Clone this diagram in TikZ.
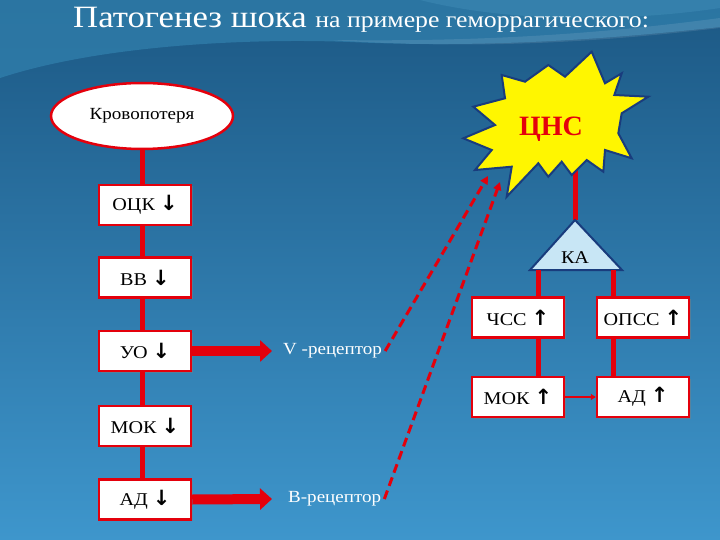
\documentclass[tikz,border=0pt]{standalone}
\usepackage{fontspec}
\setmainfont{Liberation Serif}[FakeStretch=1.12]
\newfontfamily\plainserif{Liberation Serif}
\newfontfamily\arrowf{DejaVu Sans}
\usetikzlibrary{arrows.meta,shapes.geometric,shadows}
\definecolor{redc}{RGB}{228,0,12}
\definecolor{bgtop}{RGB}{28,88,132}
\definecolor{bgbot}{RGB}{62,150,204}
\definecolor{bandc}{RGB}{50,130,175}
\definecolor{starfill}{RGB}{255,246,0}
\definecolor{starline}{RGB}{25,60,125}
\definecolor{trifill}{RGB}{200,230,245}
\newcommand{\arrdown}{{\arrowf\bfseries\fontsize{21}{22}\selectfont ↓}}
\newcommand{\arrup}{{\arrowf\bfseries\fontsize{21}{22}\selectfont ↑}}
\tikzset{
  box/.style={draw=redc, line width=2.5pt, fill=white, minimum width=92pt, minimum height=40pt,
    inner sep=0pt, font=\fontsize{18}{20}\selectfont,
    drop shadow={shadow xshift=1.5pt, shadow yshift=-1.5pt, opacity=0.45}},
  redline/.style={draw=redc, line width=5pt},
  blockarrow/.style={draw=redc, line width=10pt, -{Triangle[length=12pt,width=21pt]}},
  dasharrow/.style={draw=redc, line width=3pt, dash pattern=on 9pt off 5pt, -{Triangle[length=8pt,width=8pt]}},
  reclabel/.style={text=white, inner sep=0pt, anchor=west, font=\fontsize{17}{19}\selectfont},
}
\begin{document}
\begin{tikzpicture}[x=1pt,y=-1pt]
\useasboundingbox (0,0) rectangle (720,540);
\shade[top color=bgtop, bottom color=bgbot] (0,0) rectangle (720,540);
% lighter wave band at the top
\fill[bandc, opacity=0.7] (0,78) .. controls (100,45) and (250,38) .. (350,42)
  .. controls (480,48) and (600,40) .. (720,27) -- (720,0) -- (0,0) -- cycle;
\fill[white, opacity=0.10] (330,40) .. controls (480,50) and (600,42) .. (720,28) -- (720,18)
  .. controls (600,34) and (480,42) .. (330,40) -- cycle;
\fill[cyan!50!white, opacity=0.12] (420,0) .. controls (520,25) and (640,20) .. (720,8) -- (720,0) -- cycle;

% title
\node[anchor=base west, text=white, inner sep=0pt] (title) at (73,28)
  {\fontsize{31}{33}\selectfont Патогенез шока \fontsize{23}{25}\selectfont на примере геморрагического:};

% left chain
\node[ellipse, draw=redc, line width=2.5pt, fill=white, minimum width=182pt, minimum height=66pt,
  inner sep=0pt, font=\fontsize{17}{19}\selectfont] (blood) at (142,116) {Кровопотеря};
\node[box] (ock) at (145,205) {ОЦК \arrdown};
\node[box] (vv)  at (145,277.5) {ВВ \arrdown};
\node[box] (uo)  at (145,351) {УО \arrdown};
\node[box] (mok) at (145,426) {МОК \arrdown};
\node[box] (ad)  at (145,499.5) {АД \arrdown};
\draw[redline] (blood.south) -- (blood.south |- ock.north);
\draw[redline] (ock.south -| blood.south) -- (vv.north -| blood.south);
\draw[redline] (vv.south -| blood.south) -- (uo.north -| blood.south);
\draw[redline] (uo.south -| blood.south) -- (mok.north -| blood.south);
\draw[redline] (mok.south -| blood.south) -- (ad.north -| blood.south);

% receptors
\node[reclabel] (vrec) at (283,351) {V -рецептор};
\node[reclabel] (brec) at (288,499) {В-рецептор};
\draw[blockarrow] (uo.east) -- ([xshift=-11pt]vrec.west);
\draw[blockarrow] (ad.east) -- ([xshift=-16pt]brec.west);

% CNS star
\coordinate (kaTop) at (575,220);
\draw[redline] (575,150) -- (kaTop);
\filldraw[fill=starfill, draw=starline, line width=2pt, line join=miter]
  (591.7,51.7) -- (605,83.3) -- (621.7,73.3) -- (614.3,95) -- (648.3,96.7) -- (621.7,113.3)
  -- (618.3,133.3) -- (631.7,158.3) -- (605,150) -- (603.3,171.7) -- (586.7,160)
  -- (571.7,175) -- (561.7,161.7) -- (548.3,176.7) -- (538.3,163.3) -- (506.7,196.7)
  -- (511.7,166.7) -- (475,170) -- (491.7,150) -- (463.3,138.3) -- (495,125)
  -- (473.3,106.7) -- (505,98.3) -- (501.7,75) -- (525,81.7) -- (548.3,65) -- (565,76.7) -- cycle;
\node[text=redc, inner sep=0pt, font=\plainserif\bfseries\fontsize{28}{30}\selectfont] (cns) at (551,129) {ЦНС};
\coordinate (cnsA) at (488,176);
\coordinate (cnsB) at (500,182);

% KA triangle
\filldraw[fill=trifill, draw=starline, line width=2pt, line join=miter] (kaTop) -- (622,270) -- (530,270) -- cycle;
\node[inner sep=0pt, font=\fontsize{18}{20}\selectfont] (ka) at (575,258) {КА};
\coordinate (kaL) at (538,270);
\coordinate (kaR) at (613,270);

% right boxes
\node[box] (chss) at (518,317.5) {ЧСС \arrup};
\node[box] (opss) at (643,317.5) {ОПСС \arrup};
\node[box] (mok2) at (518,397) {МОК \arrup};
\node[box] (ad2)  at (643,397) {АД \arrup};
\draw[redline] (kaL) -- (kaL |- chss.north);
\draw[redline] (kaR) -- (kaR |- opss.north);
\draw[redline] (kaL |- chss.south) -- (kaL |- mok2.north);
\draw[redline] (kaR |- opss.south) -- (kaR |- ad2.north);
\draw[draw=redc, line width=2.5pt, -{Triangle[length=5pt,width=6pt]}] (mok2.east) -- (ad2.west);

% dashed feedback arrows
\draw[dasharrow] ([xshift=3pt]vrec.east) -- (cnsA);
\draw[dasharrow] ([xshift=3pt]brec.east) -- (cnsB);
\end{tikzpicture}
\end{document}
